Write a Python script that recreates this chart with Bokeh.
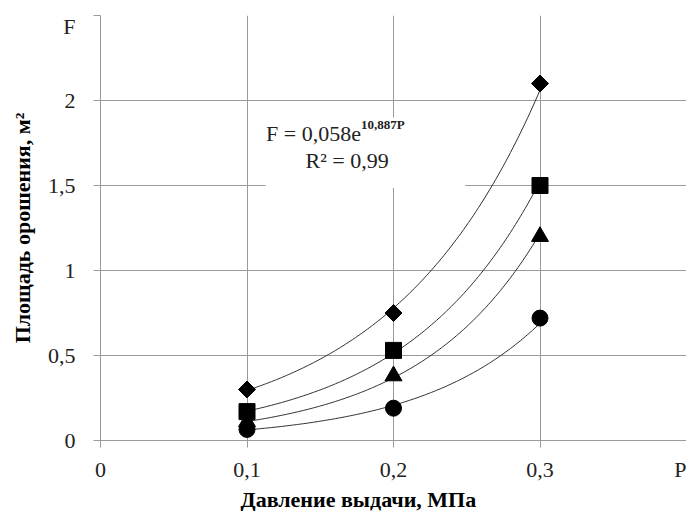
import numpy as np
from bokeh.plotting import figure
from bokeh.models import (FixedTicker, CustomJSTickFormatter, Label, BoxAnnotation,
                          Title, Range1d, LinearAxis)
from bokeh.embed import file_html
from bokeh.resources import INLINE

# ---- data ----
pressure = [0.1, 0.2, 0.3]
series_diamond = [0.30, 0.75, 2.10]
series_square = [0.17, 0.53, 1.50]
series_triangle = [0.11, 0.38, 1.20]
series_circle = [0.065, 0.19, 0.72]

x_ticks = [0, 0.1, 0.2, 0.3]
x_tick_labels = ["0", "0,1", "0,2", "0,3"]
y_ticks = [0, 0.5, 1, 1.5, 2, 2.5]
y_tick_labels = ["0", "0,5", "1", "1,5", "2"]

x_axis_title = "Давление выдачи, МПа"
y_axis_title = "Площадь орошения, м²"
x_end_label = "P"      # shown near P = 0.396
y_end_label = "F"      # shown near F = 2.435
x_end_pos = 0.396
y_end_pos = 2.435
equation = "F = 0,058e"
equation_exp = "10,887P"
r_squared = "R² = 0,99"

FONT = "'Liberation Serif', 'Times New Roman', serif"
GRID = "#9a9a9a"
TXT = "#222222"

p = figure(width=686, height=511, output_backend="svg", toolbar_location=None,
           x_range=Range1d(0, 0.4), y_range=Range1d(0, 2.5),
           min_border_left=100, min_border_right=0, min_border_top=15,
           min_border_bottom=71, background_fill_color="white",
           border_fill_color="white")
p.outline_line_color = None

def fmt(tvals, tlabels):
    return CustomJSTickFormatter(args=dict(tvals=tvals, tlabels=tlabels), code="""
        let best = 0, d = 1e9;
        for (let i = 0; i < tvals.length; i++) {
            const dd = Math.abs(tvals[i] - tick);
            if (dd < d) { d = dd; best = i; }
        }
        return tlabels[best];
    """)

# main axes: line + outward tick marks only
for ax, tv in ((p.xaxis[0], x_ticks), (p.yaxis[0], y_ticks)):
    ax.ticker = FixedTicker(ticks=tv)
    ax.formatter = fmt(tv, [""] * len(tv))
    ax.axis_line_color = GRID
    ax.major_tick_line_color = GRID
    ax.major_tick_out = 7
    ax.major_tick_in = 0
    ax.minor_tick_line_color = None
    ax.major_label_standoff = 0
    ax.major_label_text_font_size = "0px"

# label axes (texts only)
x_lab_pos = x_ticks + [x_end_pos]
x_lab_txt = x_tick_labels + [x_end_label]
y_lab_pos = y_ticks[:-1] + [y_end_pos]
y_lab_txt = y_tick_labels + [y_end_label]

xlab = LinearAxis(ticker=FixedTicker(ticks=x_lab_pos), formatter=fmt(x_lab_pos, x_lab_txt))
ylab = LinearAxis(ticker=FixedTicker(ticks=y_lab_pos), formatter=fmt(y_lab_pos, y_lab_txt))
for ax in (xlab, ylab):
    ax.axis_line_color = None
    ax.major_tick_line_color = None
    ax.minor_tick_line_color = None
    ax.major_tick_out = 0
    ax.major_tick_in = 0
    ax.major_label_text_font = FONT
    ax.major_label_text_font_size = "22px"
    ax.major_label_text_color = TXT
xlab.major_label_standoff = 9
ylab.major_label_standoff = 18
ylab.axis_label = y_axis_title
ylab.axis_label_text_font = FONT
ylab.axis_label_text_font_size = "22px"
ylab.axis_label_text_font_style = "bold"
ylab.axis_label_text_color = "black"
ylab.axis_label_standoff = 10
p.add_layout(xlab, "below")
p.add_layout(ylab, "left")

p.xgrid.ticker = FixedTicker(ticks=x_ticks)
p.ygrid.ticker = FixedTicker(ticks=y_ticks)
for g in (p.xgrid[0], p.ygrid[0]):
    g.grid_line_color = GRID
    g.grid_line_width = 1

# trend curves (exponential fits of each series)
xs = np.linspace(min(pressure), max(pressure), 120)
for ys in (series_diamond, series_square, series_triangle, series_circle):
    b, lna = np.polyfit(pressure, np.log(ys), 1)
    p.line(xs, np.exp(lna) * np.exp(b * xs), line_color="#303030", line_width=1)

p.scatter(pressure, series_diamond, marker="square", angle=np.pi / 4, size=12,
          fill_color="black", line_color="black")
p.scatter(pressure, series_square, marker="square", size=16,
          fill_color="black", line_color="black")
p.scatter(pressure, series_triangle, marker="triangle", size=17,
          fill_color="black", line_color="black")
p.scatter(pressure, series_circle, marker="circle", size=16,
          fill_color="black", line_color="black")

# equation box
p.add_layout(BoxAnnotation(left=0.1126, right=0.249, top=1.90, bottom=1.485,
                           fill_color="white", fill_alpha=1, line_color=None))
p.add_layout(Label(x=0.1778, y=1.805, text=equation, text_align="right",
                   text_baseline="alphabetic", text_font=FONT,
                   text_font_size="22px", text_color=TXT))
p.add_layout(Label(x=0.1778, y=1.86, text=equation_exp, text_align="left",
                   text_baseline="alphabetic", text_font=FONT,
                   text_font_size="13px", text_font_style="bold",
                   text_color=TXT))
p.add_layout(Label(x=0.140, y=1.647, text=r_squared, text_align="left",
                   text_baseline="alphabetic", text_font=FONT,
                   text_font_size="22px", text_color=TXT))

p.add_layout(Title(text=x_axis_title, align="left", offset=140, standoff=0,
                   text_font=FONT, text_font_size="22px",
                   text_font_style="bold", text_color="black"), "below")

open("out.html", "w").write(file_html(p, INLINE))
